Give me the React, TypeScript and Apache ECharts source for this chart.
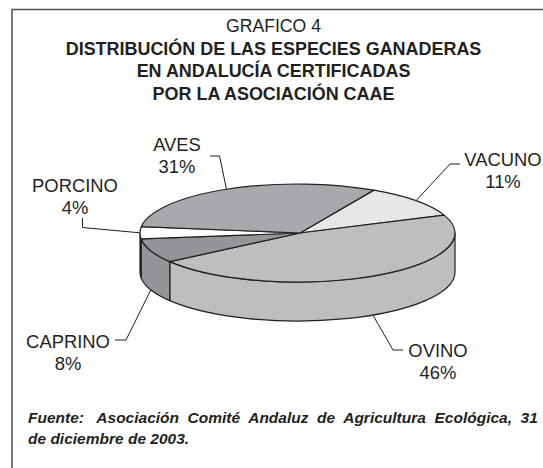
import React, { useEffect, useRef } from "react";
import * as echarts from "echarts";

const categories = ["VACUNO", "OVINO", "CAPRINO", "PORCINO", "AVES"];
const shares = [11, 46, 8, 4, 31];
const sliceColors = ["#e6e7e8", "#bcbec0", "#939598", "#ffffff", "#a7a9ac"];
const heading = "GRAFICO 4";
const titleLines = [
  "DISTRIBUCIÓN DE LAS ESPECIES GANADERAS",
  "EN ANDALUCÍA CERTIFICADAS",
  "POR LA ASOCIACIÓN CAAE",
];
const sourceLines = [
  "Fuente:   Asociación  Comité  Andaluz  de  Agricultura  Ecológica,  31",
  "de diciembre de 2003.",
];

const INK = "#231f20";
const FONT = "'Liberation Sans', Arial, sans-serif";
const PIE = { cx: 297.5, cy: 233, rx: 157.5, ry: 49, depth: 39, hubX: 300, start: 29 };
// bend points of each label's leader, and the label's centre
const LABEL_LAYOUT: Record<string, { bend: number[][]; x: number; y: number }> = {
  VACUNO: { bend: [[450, 164], [460, 164]], x: 503, y: 159 },
  OVINO: { bend: [[393, 350], [403, 350]], x: 438, y: 350 },
  CAPRINO: { bend: [[126, 340], [115, 340]], x: 68, y: 341.5 },
  PORCINO: { bend: [[82.5, 227.5], [82.5, 218]], x: 75, y: 185 },
  AVES: { bend: [[219.5, 156], [210, 156]], x: 177, y: 144.5 },
};

const rad = (a: number) => (a * Math.PI) / 180;
const px = (a: number) => PIE.cx + PIE.rx * Math.sin(rad(a));
const py = (a: number) => PIE.cy - PIE.ry * Math.cos(rad(a));

function renderSlice(params: any, api: any) {
  const i = params.dataIndex;
  const name = categories[i];
  const total = shares.reduce((s, v) => s + v, 0);
  const before = shares.slice(0, i).reduce((s, v) => s + v, 0);
  const a0 = PIE.start + (before / total) * 360;
  const a1 = a0 + (api.value(0) / total) * 360;
  const mid = (a0 + a1) / 2;
  const color = sliceColors[i];
  const stroke = { stroke: INK, lineWidth: 1.2, lineJoin: "round" };
  const children: any[] = [];

  // Front wall, only for the part of the slice facing the viewer
  const s0 = Math.max(a0, 90);
  const s1 = Math.min(a1, 270);
  if (s1 > s0) {
    const d = PIE.depth;
    children.push({
      type: "path",
      shape: {
        pathData:
          `M${px(s0)} ${py(s0)}A${PIE.rx} ${PIE.ry} 0 0 1 ${px(s1)} ${py(s1)}` +
          `L${px(s1)} ${py(s1) + d}A${PIE.rx} ${PIE.ry} 0 0 0 ${px(s0)} ${py(s0) + d}Z`,
      },
      style: { fill: color, ...stroke },
    });
  }

  // Top face
  const large = a1 - a0 > 180 ? 1 : 0;
  children.push({
    type: "path",
    shape: {
      pathData:
        `M${PIE.hubX} ${PIE.cy}L${px(a0)} ${py(a0)}` +
        `A${PIE.rx} ${PIE.ry} 0 ${large} 1 ${px(a1)} ${py(a1)}Z`,
    },
    style: { fill: color, ...stroke },
  });

  // Leader and label
  const norm = ((mid % 360) + 360) % 360;
  const onWall = norm > 100 && norm < 260;
  const layout = LABEL_LAYOUT[name];
  children.push({
    type: "polyline",
    shape: { points: [[px(mid), py(mid) + (onWall ? PIE.depth : 0)], ...layout.bend] },
    style: { fill: "none", stroke: INK, lineWidth: 1 },
  });
  children.push({
    type: "text",
    x: layout.x,
    y: layout.y,
    style: {
      text: name,
      font: `18.4px ${FONT}`,
      fill: INK,
      textAlign: "center",
      textVerticalAlign: "middle",
    },
  });
  children.push({
    type: "text",
    x: layout.x,
    y: layout.y + 22,
    style: {
      text: `${api.value(0)}%`,
      font: `18.4px ${FONT}`,
      fill: INK,
      textAlign: "center",
      textVerticalAlign: "middle",
    },
  });
  return { type: "group", children };
}

const headerText = (text: string, y: number, weight: string, size: number) => ({
  type: "text",
  x: 273.5,
  y,
  silent: true,
  style: {
    text,
    font: `${weight} ${size}px ${FONT}`,
    fill: INK,
    textAlign: "center",
    textVerticalAlign: "middle",
  },
});

const sourceText = (text: string, y: number) => ({
  type: "text",
  x: 28,
  y,
  silent: true,
  style: {
    text,
    font: `italic bold 15.5px ${FONT}`,
    fill: INK,
    textAlign: "left",
    textVerticalAlign: "middle",
  },
});

export default function App() {
  const ref = useRef<HTMLDivElement>(null);
  useEffect(() => {
    document.body.style.margin = "0";
    document.body.style.background = "#ffffff";
    const chart = echarts.init(ref.current!, null, { renderer: "svg" });
    chart.setOption({
      animation: false,
      backgroundColor: "#ffffff",
      graphic: [
        {
          type: "polyline",
          silent: true,
          shape: { points: [[543, 9.5], [12, 9.5], [12, 468]] },
          style: { fill: "none", stroke: "#4d4d4f", lineWidth: 1.5 },
        },
        headerText(heading, 26, "normal", 17.6),
        headerText(titleLines[0], 48.5, "bold", 17.95),
        headerText(titleLines[1], 71, "bold", 17.95),
        headerText(titleLines[2], 94, "bold", 17.95),
        sourceText(sourceLines[0], 417),
        sourceText(sourceLines[1], 438),
      ],
      series: [
        {
          type: "custom",
          coordinateSystem: "none",
          silent: true,
          data: shares.map((v) => [v]),
          renderItem: renderSlice,
        },
      ],
    });
    return () => chart.dispose();
  }, []);
  return <div ref={ref} style={{ position: "absolute", left: 0, top: 0, width: 543, height: 468 }} />;
}
